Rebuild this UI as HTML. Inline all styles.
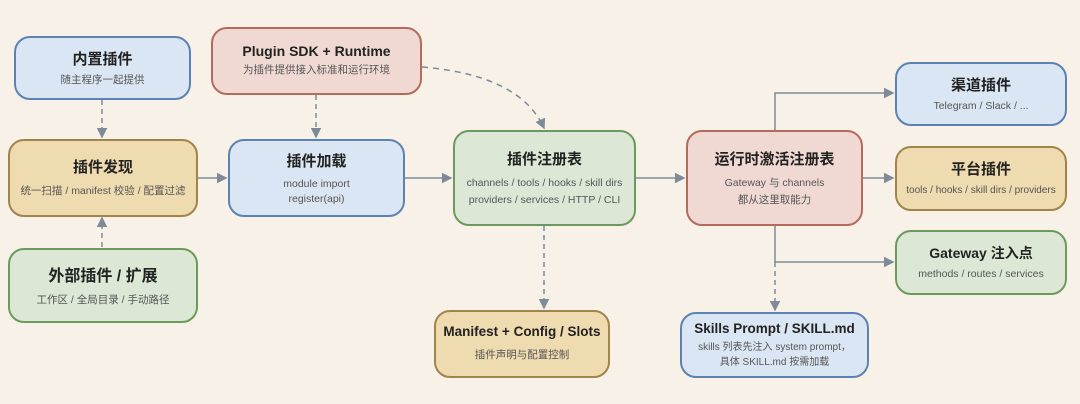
<!DOCTYPE html>
<html><head><meta charset="utf-8"><style>
body{margin:0;width:1080px;height:404px;background:#f8f1e7;position:relative;overflow:hidden;font-family:"Liberation Sans","Noto Sans CJK SC",sans-serif}
.b{position:absolute;box-sizing:border-box;border:2px solid;border-radius:16px;display:flex;flex-direction:column;align-items:center;justify-content:center;text-align:center;color:#222}
.t{font-weight:bold;font-size:15px;margin-bottom:6px;white-space:nowrap}
.s{font-size:10.5px;color:#555;line-height:17px;white-space:nowrap}
.bl{background:#dae6f3;border-color:#5b82b3}
.tn{background:#efdbb0;border-color:#a2844a}
.gr{background:#dce8d5;border-color:#6c9a5c}
.rd{background:#f1d9d3;border-color:#b56a5e}
svg{position:absolute;left:0;top:0}
</style></head><body>
<svg width="1080" height="404">
<defs><marker id="a" markerWidth="7" markerHeight="7" refX="6" refY="3.5" orient="auto"><path d="M0,0L7,3.5L0,7z" fill="#7d8a99"/></marker></defs>
<g stroke="#7d8a99" stroke-width="1.5" fill="none">
<path d="M102 100V137" stroke-dasharray="5,4" marker-end="url(#a)"/>
<path d="M102 247V218" stroke-dasharray="5,4" marker-end="url(#a)"/>
<path d="M316 95V137" stroke-dasharray="5,4" marker-end="url(#a)"/>
<path d="M422 67Q520 75 544 128" stroke-dasharray="6,5" marker-end="url(#a)"/>
<path d="M198 178H226" marker-end="url(#a)"/>
<path d="M405 178H451" marker-end="url(#a)"/>
<path d="M636 178H684" marker-end="url(#a)"/>
<path d="M863 178H893" marker-end="url(#a)"/>
<path d="M775 130V93H893" marker-end="url(#a)"/>
<path d="M775 226V262H893" marker-end="url(#a)"/>
<path d="M775 262V310" stroke-dasharray="5,4" marker-end="url(#a)"/>
<path d="M544 226V308" stroke-dasharray="5,4" marker-end="url(#a)"/>
</g></svg>
<div class="b bl" style="left:14px;top:36px;width:177px;height:64px"><div class="t" style="margin-bottom:3px">内置插件</div><div class="s">随主程序一起提供</div></div>
<div class="b tn" style="left:8px;top:139px;width:190px;height:78px"><div class="t">插件发现</div><div class="s">统一扫描 / manifest 校验 / 配置过滤</div></div>
<div class="b gr" style="left:8px;top:248px;width:190px;height:75px"><div class="t" style="font-size:16px">外部插件 / 扩展</div><div class="s">工作区 / 全局目录 / 手动路径</div></div>
<div class="b rd" style="left:211px;top:27px;width:211px;height:68px"><div class="t" style="margin-bottom:3px;font-size:14px">Plugin SDK + Runtime</div><div class="s">为插件提供接入标准和运行环境</div></div>
<div class="b bl" style="left:228px;top:139px;width:177px;height:78px"><div class="t">插件加载</div><div class="s" style="line-height:15px">module import<br>register(api)</div></div>
<div class="b gr" style="left:453px;top:130px;width:183px;height:96px"><div class="t">插件注册表</div><div class="s">channels / tools / hooks / skill dirs<br>providers / services / HTTP / CLI</div></div>
<div class="b rd" style="left:686px;top:130px;width:177px;height:96px"><div class="t">运行时激活注册表</div><div class="s">Gateway 与 channels<br>都从这里取能力</div></div>
<div class="b bl" style="left:895px;top:62px;width:172px;height:64px"><div class="t" style="margin-bottom:3px">渠道插件</div><div class="s">Telegram / Slack / ...</div></div>
<div class="b tn" style="left:895px;top:146px;width:172px;height:65px"><div class="t" style="margin-bottom:3px">平台插件</div><div class="s" style="font-size:10px">tools / hooks / skill dirs / providers</div></div>
<div class="b gr" style="left:895px;top:230px;width:172px;height:65px"><div class="t" style="margin-bottom:3px;font-size:14px">Gateway 注入点</div><div class="s">methods / routes / services</div></div>
<div class="b tn" style="left:434px;top:310px;width:176px;height:68px"><div class="t" style="font-size:13.5px;margin-bottom:8px">Manifest + Config / Slots</div><div class="s">插件声明与配置控制</div></div>
<div class="b bl" style="left:680px;top:312px;width:189px;height:66px"><div class="t" style="margin-bottom:4px;font-size:13.5px">Skills Prompt / SKILL.md</div><div class="s" style="font-size:10px;line-height:15px">skills 列表先注入 system prompt，<br>具体 SKILL.md 按需加载</div></div>
</body></html>
